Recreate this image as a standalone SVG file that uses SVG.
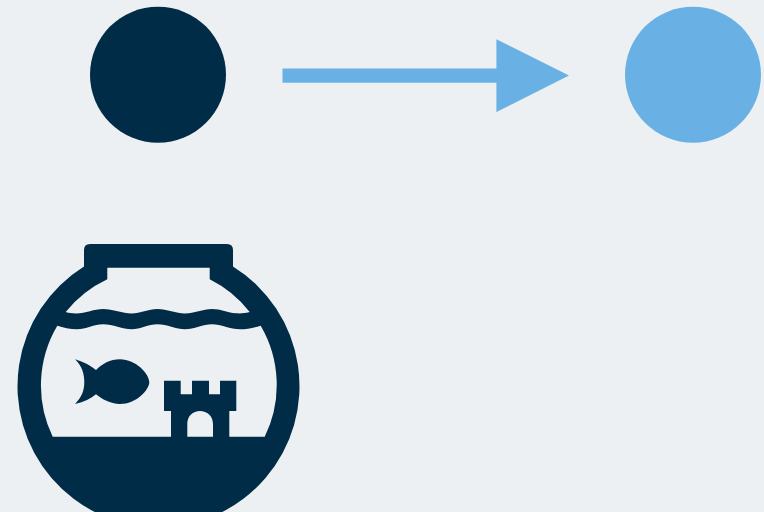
<svg xmlns="http://www.w3.org/2000/svg" width="764" height="512" viewBox="0 0 764 512">
<style>
.dark{fill:#012c47}
.blue{fill:#69b1e4}
.bg{fill:#ecf0f3}
</style>
<rect class="bg" x="0" y="0" width="764" height="512"/>
<g id="node-source"><circle class="dark" cx="158" cy="74.7" r="68"/></g>
<g id="node-target"><circle class="blue" cx="693" cy="74.7" r="68"/></g>
<g id="connectors">
<path class="blue" d="M282.5 68.4H496.4V39.3L569 75.6 496.4 112V82.7H282.5Z"/>
</g>
<g id="node-fishbowl">
<path class="dark" d="M84 266.500V250Q84 244 90 244H227Q233 244 233 250V266.500A141 141 0 1 1 84 266.500Z"/>
<path class="bg" d="M107.300 267.700H209.700V279.300A117.400 117.400 0 0 1 249.700 312C244 313.500 240 313.600 236 313.300C228 312.800 221 309 212 309C203 309 194 313.400 185 313.400C176 313.400 167 309 157.500 309C148 309 140.500 313.400 131.500 313.400C122.500 313.400 113 309 103 309C94 309 86 313.300 76 313.400C72 313.400 69 313 65.700 312A117.400 117.400 0 0 1 107.300 279.300Z"/>
<path class="bg" d="M57.300 325.700C63 327.500 70 329.300 77 329.300C86 329.300 94 324.300 103 324.300C113 324.300 122.500 329.300 131.500 329.300C140.500 329.300 148 324.300 157.500 324.300C167 324.300 176 329.300 185 329.300C194 329.300 203 324.300 212 324.300C221 324.300 230 329.300 240 329.300C247 329.300 254 327.500 260.700 325.700A117.400 117.400 0 0 1 264.700 436.700H52.700A117.400 117.400 0 0 1 57.300 325.700Z"/>
<path class="dark" d="M164 380.700H180.700V394.300H192V380.700H209V394.300H220V380.700H236.300V411H229.300V437H213V424C213 416 207 411 200 411C193 411 187.300 416 187.300 424V437H171V411H164Z"/>
<path class="dark" d="M75 359.300C84 362 91 366 96 370C102 364 110 359.300 120 359.300C136 359.300 149.300 374 149.300 382C149.300 390 136 404 120 404C110 404 102 399 96 394.300C91 398.500 84 402 75 404C82 397 84.300 390 84.300 382C84.300 374 82 366 75 359.300Z"/>
</g>
</svg>
